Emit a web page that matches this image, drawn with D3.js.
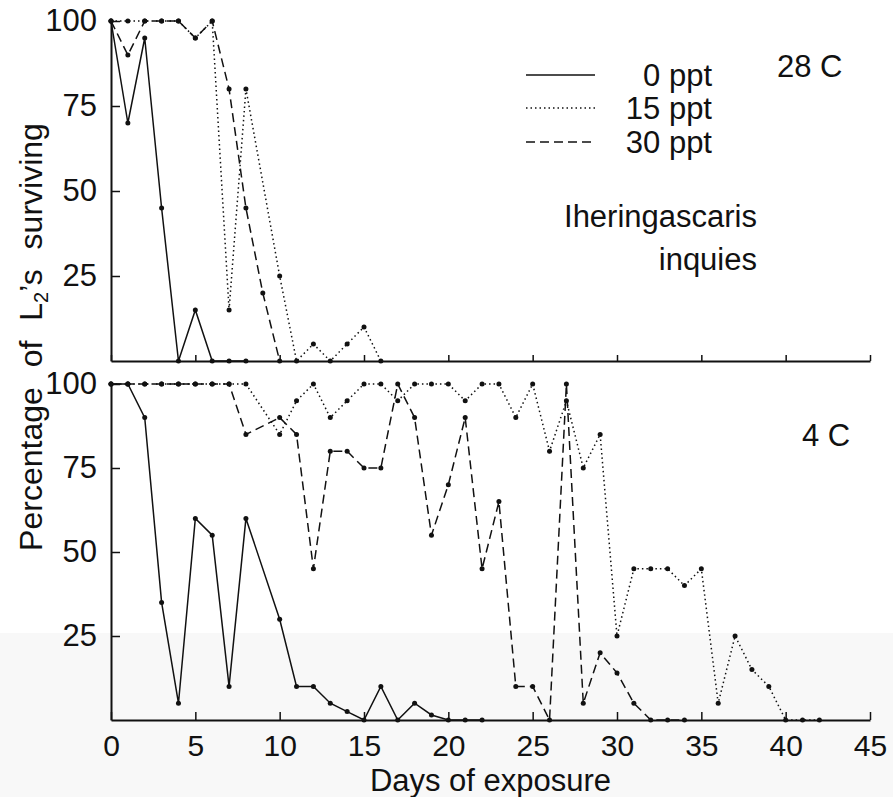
<!DOCTYPE html>
<html>
<head>
<meta charset="utf-8">
<script src="https://cdn.jsdelivr.net/npm/d3@7"></script>
<style>
  body { margin: 0; background: #fff; }
  svg text { font-family: "Liberation Sans", Arial, sans-serif; fill: #111; }
</style>
</head>
<body>
<div id="chart"></div>
<script>
// datos (dias, % sobrevivientes)
const xTicks = [0, 5, 10, 15, 20, 25, 30, 35, 40, 45];
const yTicks = [25, 50, 75, 100];

// 28 C
const hot0Days = [0, 1, 2, 3, 4, 5, 6, 7, 8];
const hot0Vals = [100, 70, 95, 45, 0, 15, 0, 0, 0];
const hot15Days = [0, 1, 2, 3, 4, 5, 6, 7, 8, 10, 11, 12, 13, 14, 15, 16];
const hot15Vals = [100, 100, 100, 100, 100, 95, 100, 15, 80, 25, 0, 5, 0, 5, 10, 0];
const hot30Days = [0, 1, 2, 3, 4, 5, 6, 7, 8, 9, 10];
const hot30Vals = [100, 90, 100, 100, 100, 95, 100, 80, 45, 20, 0];

// 4 C
const cold0Days = [0, 1, 2, 3, 4, 5, 6, 7, 8, 10, 11, 12, 13, 14, 15, 16, 17, 18, 19, 20, 21, 22];
const cold0Vals = [100, 100, 90, 35, 5, 60, 55, 10, 60, 30, 10, 10, 5, 2.5, 0, 10, 0, 5, 1.5, 0, 0, 0];
const cold15Days = [0, 1, 2, 3, 4, 5, 6, 7, 8, 10, 11, 12, 13, 14, 15, 16, 17, 18, 19, 20, 21, 22, 23, 24, 25,
                    26, 27, 28, 29, 30, 31, 32, 33, 34, 35, 36, 37, 38, 39, 40, 41, 42];
const cold15Vals = [100, 100, 100, 100, 100, 100, 100, 100, 100, 85, 95, 100, 90, 95, 100, 100, 95, 100, 100, 100, 95, 100, 100, 90, 100,
                    80, 95, 75, 85, 25, 45, 45, 45, 40, 45, 5, 25, 15, 10, 0, 0, 0];
const cold30Days = [0, 1, 2, 3, 4, 5, 6, 7, 8, 10, 11, 12, 13, 14, 15, 16, 17, 18, 19, 20, 21, 22, 23, 24, 25,
                    26, 27, 28, 29, 30, 31, 32, 33, 34];
const cold30Vals = [100, 100, 100, 100, 100, 100, 100, 100, 85, 90, 85, 45, 80, 80, 75, 75, 100, 90, 55, 70, 90, 45, 65, 10, 10,
                    0, 100, 5, 20, 14, 5, 0, 0, 0];

const legendLabels = ['0 ppt', '15 ppt', '30 ppt'];
const dashes = ['none', '1.5,3', '9,5'];

const width = 893, height = 797;

const svg = d3.select('#chart').append('svg')
    .attr('width', width)
    .attr('height', height);

// banda gris clara del escaneo
svg.append('rect')
    .attr('x', 0).attr('y', 633)
    .attr('width', width).attr('height', height - 633)
    .attr('fill', '#f8f8f8');

const x = d3.scaleLinear().domain([0, 45]).range([111, 870]);
const yTop = d3.scaleLinear().domain([0, 100]).range([361, 21]);
const yBot = d3.scaleLinear().domain([0, 100]).range([720, 384]);

function drawPanel(y, series, showLabels) {
    // eje y
    const gy = svg.append('g')
        .attr('transform', `translate(${x(0)},0)`)
        .call(d3.axisLeft(y).tickValues(yTicks).tickSizeInner(-9).tickSizeOuter(0).tickPadding(14));
    gy.select('.domain').attr('stroke', '#111').attr('stroke-width', 2);
    gy.selectAll('.tick line').attr('stroke', '#111').attr('stroke-width', 1.5);
    gy.selectAll('.tick text').style('font-size', '31px').attr('fill', '#111');

    // eje x
    const gx = svg.append('g')
        .attr('transform', `translate(0,${y(0)})`)
        .call(d3.axisBottom(x).tickValues(xTicks).tickSizeInner(showLabels ? -8 : -6).tickSizeOuter(0).tickPadding(15)
            .tickFormat(showLabels ? d3.format('d') : ''));
    gx.select('.domain').attr('stroke', '#111').attr('stroke-width', 2);
    gx.selectAll('.tick line').attr('stroke', '#111').attr('stroke-width', 1.5);
    gx.selectAll('.tick text').style('font-size', '30px').attr('fill', '#111');

    const line = d3.line().x(d => x(d[0])).y(d => y(d[1]));

    series.forEach((s, i) => {
        const pts = s.days.map((d, j) => [d, s.vals[j]]);
        svg.append('path')
            .datum(pts)
            .attr('d', line)
            .attr('fill', 'none')
            .attr('stroke', '#111')
            .attr('stroke-width', 1.5)
            .attr('stroke-dasharray', dashes[i]);
        svg.append('g').selectAll('circle')
            .data(pts)
            .enter()
            .append('circle')
            .attr('cx', d => x(d[0]))
            .attr('cy', d => y(d[1]))
            .attr('r', 2.5)
            .attr('fill', '#111');
    });
}

drawPanel(yTop, [
    {days: hot0Days, vals: hot0Vals},
    {days: hot15Days, vals: hot15Vals},
    {days: hot30Days, vals: hot30Vals}
], false);

drawPanel(yBot, [
    {days: cold0Days, vals: cold0Vals},
    {days: cold15Days, vals: cold15Vals},
    {days: cold30Days, vals: cold30Vals}
], true);

// leyenda
const legendY = [75, 108, 142];
legendLabels.forEach((lab, i) => {
    svg.append('line')
        .attr('x1', 526).attr('x2', 595)
        .attr('y1', legendY[i]).attr('y2', legendY[i])
        .attr('stroke', '#111')
        .attr('stroke-width', 1.5)
        .attr('stroke-dasharray', dashes[i]);
    svg.append('text')
        .attr('x', 712).attr('y', legendY[i] + 11)
        .attr('text-anchor', 'end')
        .style('font-size', '31px')
        .text(lab);
});

// textos
svg.append('text').attr('x', 777).attr('y', 77).style('font-size', '31px').text('28 C');
svg.append('text').attr('x', 757).attr('y', 227).attr('text-anchor', 'end').style('font-size', '31px').text('Iheringascaris');
svg.append('text').attr('x', 757).attr('y', 270).attr('text-anchor', 'end').style('font-size', '31px').text('inquies');
svg.append('text').attr('x', 802).attr('y', 446).style('font-size', '31px').text('4 C');

svg.append('text')
    .attr('x', x(22.5)).attr('y', 791)
    .attr('text-anchor', 'middle')
    .style('font-size', '31px')
    .text('Days of exposure');

// etiqueta eje y con subindice
const ylab = svg.append('text')
    .attr('transform', 'translate(42,337) rotate(-90)')
    .attr('text-anchor', 'middle')
    .style('font-size', '32px')
    .style('word-spacing', '11px');
ylab.append('tspan').text('Percentage of L');
ylab.append('tspan').attr('dy', 6).style('font-size', '20px').text('2');
ylab.append('tspan').attr('dy', -6).text('\u2019s surviving');
</script>
</body>
</html>
